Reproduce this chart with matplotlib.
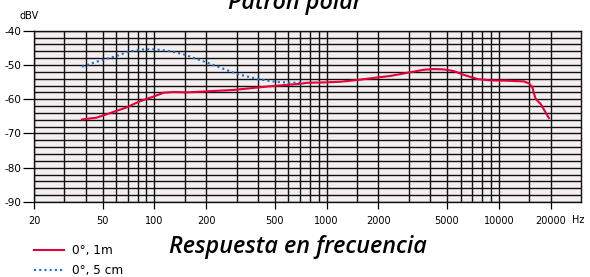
import matplotlib
matplotlib.use("Agg")
import matplotlib.pyplot as plt
from matplotlib.ticker import FixedLocator, NullFormatter

# ---- data ----
freq_1m = [38, 46, 55, 69, 79, 90, 98, 113, 129, 155, 202, 288, 361, 451, 562, 704,
           769, 962, 1203, 1504, 2009, 2350, 2937, 3670, 4195, 4797, 5484, 6270, 7493,
           8960, 11200, 14000, 14970, 15660, 16000, 16370, 17500, 19550]
db_1m = [-65.9, -65.4, -64.1, -62.4, -61.0, -59.9, -59.3, -58.1, -57.9, -58.0, -57.7,
         -57.3, -56.8, -56.3, -55.9, -55.5, -55.2, -55.1, -54.9, -54.4, -53.6, -53.2,
         -52.3, -51.4, -51.2, -51.3, -51.8, -52.9, -54.1, -54.5, -54.6, -54.8, -55.4,
         -56.5, -58.3, -59.9, -61.4, -65.5]

freq_5cm = [38, 48, 60, 71, 83, 98, 118, 148, 202, 301, 403, 504, 615, 739]
db_5cm = [-50.5, -48.8, -47.4, -46.1, -45.5, -45.4, -45.8, -46.9, -49.3, -52.6,
          -54.2, -54.9, -55.2, -55.1]

xtick_vals = [20, 50, 100, 200, 500, 1000, 2000, 5000, 10000, 20000]
xtick_labels = ["20", "50", "100", "200", "500", "1000", "2000", "5000", "10000", "20000"]
xgrid_vals = [30, 40, 60, 70, 80, 90, 150, 300, 400, 600, 700, 800, 900, 1500,
              3000, 4000, 6000, 7000, 8000, 9000, 15000]
ytick_vals = [-40, -50, -60, -70, -80, -90]
ygrid_vals = [-42, -44, -46, -48, -52, -54, -56, -58, -62, -64, -66, -68,
              -72, -74, -76, -78, -82, -84, -86, -88]

# ---- figure ----
fig = plt.figure(figsize=(5.9, 2.77), dpi=100)
ax = fig.add_axes([34/590, 1-202/277, (581-34)/590, (202-30.7)/277])
ax.set_facecolor("#f3eef0")

ax.set_xscale("log")
ax.set_xlim(20, 30000)
ax.set_ylim(-90, -40)

ax.xaxis.set_major_locator(FixedLocator(xtick_vals))
ax.set_xticklabels(xtick_labels)
ax.xaxis.set_minor_locator(FixedLocator(xgrid_vals))
ax.xaxis.set_minor_formatter(NullFormatter())
ax.yaxis.set_major_locator(FixedLocator(ytick_vals))
ax.set_yticklabels([str(v) for v in ytick_vals])
ax.yaxis.set_minor_locator(FixedLocator(ygrid_vals))

ax.grid(which="both", color="#111111", linewidth=1.0)
ax.set_axisbelow(True)
ax.tick_params(axis="x", which="major", length=5, width=0.9, labelsize=7, pad=5)
ax.tick_params(axis="y", which="major", length=8, width=0.9, labelsize=7.5, pad=1)
ax.tick_params(which="minor", length=0)
for s in ax.spines.values():
    s.set_color("#111111")
    s.set_linewidth(1.0)

red = "#e4003a"
blue = "#1f6fc0"
l1, = ax.plot(freq_1m, db_1m, color=red, lw=1.5, label="0°, 1m", zorder=4)
l2, = ax.plot(freq_5cm, db_5cm, color=blue, lw=1.5, linestyle=(0, (1, 1.5)),
              label="0°, 5 cm", zorder=3)

fig.text(20/590, 1-16/277, "dBV", fontsize=7, ha="left", va="center")
fig.text(578/590, 1-220/277, "Hz", fontsize=7, ha="center", va="center")

fig.text(295/590, 1-9/277, "Patrón polar", fontsize=16.8, fontweight="semibold",
         fontstyle="italic", family="Open Sans", ha="center", va="baseline")
fig.text(298/590, 1-253/277, "Respuesta en frecuencia", fontsize=16.8,
         fontweight="semibold", fontstyle="italic", family="Open Sans",
         ha="center", va="baseline")

fig.legend(handles=[l1, l2], loc="upper left", bbox_to_anchor=(34/590, 1-244/277),
           frameon=False, fontsize=8.7, handlelength=2.45, handletextpad=0.72,
           labelspacing=0.62, borderpad=0, borderaxespad=0)

fig.savefig("out.png", dpi=100)
